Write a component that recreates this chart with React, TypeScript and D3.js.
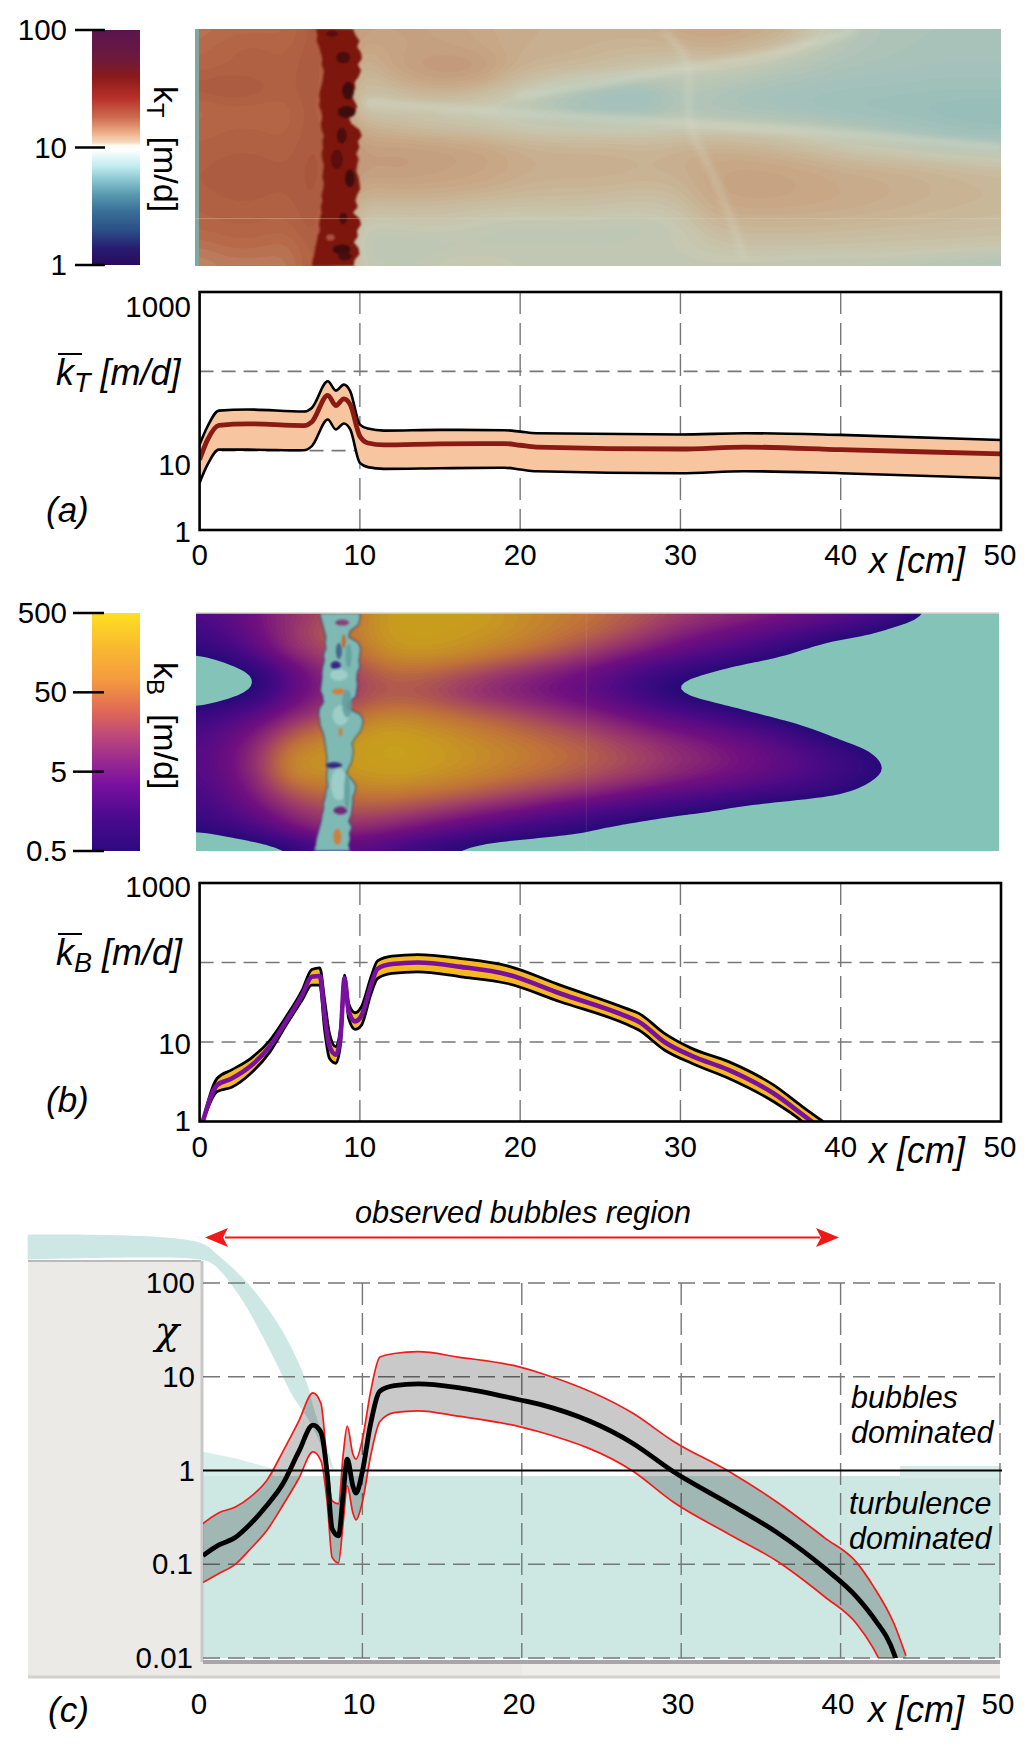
import React from "react";
import * as d3 from "d3";

// ---------- chart values ----------
const kTX = [0, 0.5, 1.2, 3, 6.5, 7, 8, 8.5, 9, 9.4, 10, 10.5, 11.5, 15, 19, 20, 21, 30, 34, 40, 50];
const kTUpper = [11.95, 20.3, 32, 33, 31.1, 34.6, 74.9, 57.1, 68, 56, 21.3, 19, 17.9, 18.3, 18.1, 17.4, 16.6, 16, 16.6, 15.8, 13.6];
const kTMean = [7.7, 13.8, 20.9, 21.8, 20.7, 23, 49.9, 37, 44.9, 38, 15.2, 12.5, 11.8, 12.2, 12.3, 11.7, 11.1, 10.5, 11.1, 10.3, 9.1];
const kTLower = [3.94, 6.7, 10.3, 10.3, 10.1, 11.4, 24.7, 18.5, 22, 18.5, 7, 6.2, 5.9, 6, 6.1, 5.8, 5.5, 5.2, 5.5, 5.2, 4.5];

const kBX = [0.2, 1.1, 2, 3.2, 4.4, 5.4, 6.4, 7, 7.5, 7.8, 8.1, 8.5, 8.8, 9.04, 9.3, 9.7, 10.1, 10.7, 11.1, 12, 13.6, 16.3, 19.2, 22.5, 26.6, 27.4, 29, 30.7, 33, 35.8, 37.6, 38.9];
const kBUpperLog = [0, 0.544, 0.649, 0.795, 1.025, 1.318, 1.653, 1.912, 1.933, 1.527, 1.109, 0.941, 1.192, 1.841, 1.485, 1.368, 1.444, 1.82, 2.02, 2.08, 2.1, 2.05, 1.958, 1.715, 1.423, 1.36, 1.109, 0.92, 0.753, 0.46, 0.188, 0];
const kBMeanLog = [0, 0.46, 0.54, 0.7, 0.95, 1.26, 1.59, 1.82, 1.83, 1.33, 0.95, 0.84, 1.09, 1.8, 1.39, 1.26, 1.33, 1.72, 1.92, 1.98, 2, 1.945, 1.85, 1.61, 1.325, 1.255, 1, 0.825, 0.65, 0.355, 0.09, -0.11];
const kBLowerLog = [0, 0.377, 0.431, 0.607, 0.879, 1.213, 1.527, 1.715, 1.715, 1.151, 0.795, 0.732, 0.983, 1.736, 1.297, 1.159, 1.213, 1.611, 1.799, 1.862, 1.883, 1.82, 1.736, 1.506, 1.226, 1.151, 0.9, 0.732, 0.544, 0.251, 0, -0.25];

const chiX = [0, 1, 2, 3, 4, 5, 6, 6.9, 7.4, 7.8, 8.1, 8.5, 8.8, 9.05, 9.4, 9.6, 10, 10.5, 11.1, 12, 13.5, 16, 19.9, 21.2, 27, 29.5, 33, 36, 39, 41, 42, 43.4, 44.1];
const chiMeanLog = [-0.908, -0.794, -0.718, -0.565, -0.374, -0.145, 0.198, 0.485, 0.408, -0.05, -0.622, -0.698, -0.24, 0.122, -0.164, -0.24, -0.01, 0.485, 0.847, 0.905, 0.924, 0.885, 0.752, 0.702, 0.286, -0.011, -0.355, -0.66, -1.042, -1.347, -1.557, -1.977, -2.4];
const chiUpperLog = [-0.565, -0.45, -0.393, -0.279, -0.107, 0.198, 0.523, 0.828, 0.714, 0.065, -0.324, -0.355, 0.179, 0.473, 0.179, 0.122, 0.332, 0.828, 1.21, 1.248, 1.267, 1.21, 1.103, 1.038, 0.607, 0.313, -0.011, -0.336, -0.718, -0.98, -1.22, -1.653, -1.977];
const chiLowerLog = [-1.195, -1.099, -1.004, -0.832, -0.641, -0.374, -0.088, 0.198, 0.103, -0.355, -0.927, -0.985, -0.546, -0.164, -0.45, -0.527, -0.336, 0.141, 0.523, 0.618, 0.637, 0.58, 0.466, 0.408, -0.011, -0.336, -0.679, -0.966, -1.347, -1.634, -1.882, -2.4, -2.8];

const xTicks = [0, 10, 20, 30, 40, 50];

// ---------- heat-map cells: 26 columns (0..50 cm, 2 cm apart), 13 rows (top to bottom) ----------
// log10 of kT [m/d]
const kTGrid = [
  [1.42,1.46,1.46,1.46,1.6,1.28,1.28,1.28,1.26,1.23,1.2,1.2,1.2,1.2,1.2,1.25,1.27,1.25,1.22,1.1,0.95,0.88,0.86,0.85,0.85,0.85],
  [1.46,1.5,1.52,1.48,1.6,1.2,1.26,1.28,1.28,1.25,1.2,1.2,1.18,1.15,1.15,1.15,1.2,1.15,1.1,0.98,0.9,0.87,0.85,0.84,0.84,0.84],
  [1.48,1.5,1.5,1.5,1.6,1.1,1.25,1.33,1.35,1.33,1.18,1.15,1.13,1.1,1.05,1,1.02,0.98,0.92,0.88,0.85,0.84,0.83,0.82,0.82,0.82],
  [1.55,1.58,1.55,1.5,1.6,1.08,1.12,1.2,1.22,1.15,1.05,0.95,0.88,0.82,0.8,0.92,0.9,0.85,0.83,0.82,0.8,0.8,0.79,0.78,0.78,0.78],
  [1.45,1.48,1.48,1.48,1.6,1,1.02,1.02,1,0.98,0.95,0.88,0.8,0.78,0.78,0.88,0.85,0.82,0.8,0.78,0.76,0.75,0.74,0.73,0.72,0.72],
  [1.48,1.5,1.5,1.48,1.6,1.2,1.15,1.1,1.08,1.05,1.02,1,1,1,1,1.02,1,1,0.98,0.95,0.9,0.86,0.82,0.78,0.75,0.74],
  [1.5,1.52,1.52,1.5,1.6,1.28,1.3,1.3,1.28,1.26,1.2,1.18,1.17,1.17,1.15,1.18,1.2,1.18,1.15,1.1,1.05,1,0.97,0.92,0.9,0.88],
  [1.52,1.54,1.54,1.52,1.6,1.3,1.32,1.3,1.28,1.26,1.22,1.2,1.2,1.2,1.18,1.2,1.24,1.26,1.25,1.23,1.2,1.18,1.17,1.15,1.12,1.1],
  [1.52,1.54,1.54,1.52,1.6,1.22,1.25,1.25,1.24,1.22,1.18,1.16,1.16,1.15,1.13,1.15,1.25,1.27,1.27,1.25,1.23,1.22,1.2,1.18,1.16,1.15],
  [1.5,1.52,1.52,1.5,1.6,1.1,1.12,1.12,1.1,1.08,1.08,1.08,1.08,1.06,1.05,1.08,1.22,1.24,1.24,1.23,1.22,1.2,1.18,1.16,1.15,1.14],
  [1.48,1.5,1.5,1.48,1.6,0.98,1,1.02,1.02,0.98,0.95,0.96,0.96,0.95,0.95,1,1.12,1.15,1.15,1.15,1.14,1.13,1.12,1.12,1.11,1.1],
  [1.42,1.46,1.46,1.42,1.6,0.95,0.94,0.94,0.95,0.96,0.98,0.98,0.98,0.98,1,1,1.05,1.08,1.08,1.08,1.07,1.07,1.06,1.06,1.05,1.05],
  [1.36,1.4,1.4,1.4,1.6,1,0.98,0.98,1.05,1.05,1,0.98,0.98,0.98,0.98,0.98,0.98,0.97,0.96,0.95,0.95,0.95,0.93,0.9,0.88,0.85],
];
// decades above 0.5 m/d; negative means below the colour range (teal)
const kBGrid = [
  [0.6,0.8,1.1,1.4,1.6,2.1,2.45,2.5,2.5,2.45,2.3,2.2,2.1,1.95,1.8,1.6,1.45,1.35,1.2,1.05,0.9,0.7,0.35,-0.1,-0.3,-0.3],
  [0.3,0.6,1.05,1.5,1.8,2.2,2.45,2.5,2.45,2.4,2.3,2.15,2,1.8,1.55,1.3,1.1,0.9,0.7,0.45,0.2,0,-0.3,-0.3,-0.3,-0.3],
  [0.05,0.3,0.8,1.4,1.6,2,2.35,2.4,2.35,2.2,2.05,1.85,1.6,1.35,1.1,0.85,0.6,0.4,0.15,-0.15,-0.4,-0.4,-0.4,-0.4,-0.4,-0.4],
  [-0.45,-0.3,0,0.8,1.3,1.65,1.95,1.95,1.8,1.6,1.4,1.2,1,0.72,0.4,0.12,-0.05,-0.3,-0.4,-0.4,-0.4,-0.4,-0.4,-0.4,-0.4,-0.4],
  [-0.45,-0.25,0.02,0.85,1.2,1.6,1.75,1.7,1.5,1.3,1.15,1,0.85,0.55,0.2,-0.12,-0.3,-0.4,-0.4,-0.4,-0.4,-0.4,-0.4,-0.4,-0.4,-0.4],
  [0.15,0.4,0.75,1.2,1.5,1.95,2.15,2.1,1.95,1.8,1.65,1.45,1.25,1.05,0.8,0.55,0.3,0.02,-0.25,-0.4,-0.4,-0.4,-0.4,-0.4,-0.4,-0.4],
  [0.5,0.8,1.2,1.8,2.1,2.35,2.5,2.4,2.3,2.15,2,1.85,1.7,1.5,1.3,1.1,0.95,0.75,0.5,0.12,-0.2,-0.4,-0.4,-0.4,-0.4,-0.4],
  [0.6,0.95,1.5,2.25,2.35,2.45,2.55,2.5,2.4,2.3,2.2,2.05,1.95,1.75,1.6,1.4,1.25,1.05,0.85,0.6,0.3,0.05,-0.3,-0.4,-0.4,-0.4],
  [0.6,0.95,1.5,2.35,2.35,2.4,2.5,2.45,2.35,2.25,2.1,2,1.85,1.7,1.55,1.35,1.2,1.05,0.85,0.65,0.4,0.15,-0.1,-0.4,-0.4,-0.4],
  [0.45,0.8,1.3,1.85,2,2.15,2.2,2.1,2,1.85,1.7,1.55,1.4,1.2,1,0.85,0.7,0.55,0.4,0.25,0.1,-0.12,-0.4,-0.4,-0.4,-0.4],
  [0.3,0.6,1,1.4,1.6,1.75,1.7,1.55,1.4,1.2,1.05,0.8,0.6,0.45,0.25,0.08,-0.05,-0.25,-0.35,-0.4,-0.4,-0.4,-0.4,-0.4,-0.4,-0.4],
  [0.06,0.2,0.5,1,1.3,1.3,1.15,0.95,0.7,0.5,0.3,0.15,0.03,-0.2,-0.3,-0.4,-0.4,-0.4,-0.4,-0.4,-0.4,-0.4,-0.4,-0.4,-0.4,-0.4],
  [-0.6,-0.5,-0.4,-0.2,0.4,0.6,0.4,0.08,-0.12,-0.35,-0.4,-0.4,-0.4,-0.4,-0.4,-0.4,-0.4,-0.4,-0.4,-0.4,-0.4,-0.4,-0.4,-0.4,-0.4,-0.4],
];

// heat-map colour stops
const kTLevels = [0.72, 0.8, 0.9, 1.0, 1.1, 1.2, 1.3, 1.45, 1.55, 1.7];
const kTColors = ["#98bdb9", "#a4c1bb", "#b6c5b5", "#c6c8b2", "#c9bb9f", "#c8ab8a", "#c39b7c", "#b66a4a", "#a9573c", "#7c1a14"];
const kBLevels = [0, 0.5, 1, 1.5, 2, 2.4, 2.6];
const kBColors = ["#2a0a7a", "#4a0a85", "#700f80", "#9c3a6a", "#c0703a", "#c89a20", "#c8a51a"];

// colour bars, top to bottom
const kTBarOffsets = [0, 0.13, 0.2, 0.29, 0.37, 0.43, 0.48, 0.49, 0.51, 0.58, 0.64, 0.7, 0.77, 0.85, 0.93, 1];
const kTBarColors = ["#5a1450", "#6e1a3a", "#8a1a1a", "#b8302a", "#cc6a4f", "#eaa680", "#f8dcc0", "#fffaf0", "#ffffff", "#c0ecf0", "#88c4cf", "#5a9ab0", "#3a7098", "#2a5088", "#281c70", "#2a0a60"];
const kBBarOffsets = [0, 0.15, 0.28, 0.41, 0.51, 0.62, 0.72, 0.85, 1];
const kBBarColors = ["#ffe020", "#f8b830", "#f59a40", "#e06a55", "#c04a78", "#9a2a90", "#7a10a0", "#4d0a90", "#2c0a80"];

// the ragged band across both maps, evenly spaced rows from top to bottom: left and right edge [cm]
const kTBandLeft = [7.5,7.6,7.55,7.7,7.8,7.9,7.85,8,7.95,7.9,7.8,7.7,7.75,7.7,7.85,7.9,7.8,7.85,8,7.9,7.95,7.85,7.9,8,7.95,7.9,8,7.95,7.85,7.9,7.8,7.85,7.75,7.7,7.75,7.6,7.55,7.45,7.4,7.3,7.25];
const kTBandRight = [9.8,9.95,10.2,10.05,10.3,10.35,10.1,10.3,10.15,9.9,9.95,9.7,9.85,10.05,9.95,9.55,9.7,10.2,10.35,10.1,10.2,10,10.15,10.05,10,10.15,10.2,10.25,10.05,9.95,10.1,9.8,10.2,10.3,10.05,10.1,9.85,10.15,10.2,9.9,9.85];
const kBBandLeft = [7.7,7.8,7.9,8,8.1,8.05,8.1,7.95,8,7.9,7.85,7.85,7.8,7.75,7.9,7.95,7.7,7.65,7.7,7.75,7.9,8,8.05,8.1,8.15,8.15,8.2,8.15,8.15,8.2,8.1,8.05,7.95,7.95,7.85,7.8,7.7,7.6,7.5,7.45,7.35];
const kBBandRight = [10.2,10.2,10.1,9.6,9.5,10.1,10.25,10.2,10.15,10.2,10.05,10,10.05,10,9.95,9.5,9.4,10.2,10.4,10.35,10.2,9.9,9.7,9.8,9.75,9.7,9.5,9.35,9.7,9.95,9.9,9.75,9.75,9.7,9.65,9.5,9.7,9.55,9.6,9.5,9.6];
const kTSpecks = [[8.5,0.02,6,3,"#561009"],[9.2,0.12,7,6,"#4a0d0a"],[9.5,0.26,6,9,"#3d0d0a"],[9.4,0.35,9,6,"#3d0d0a"],[9.1,0.45,5,8,"#4a0d0a"],[9.6,0.63,5,9,"#3d0d0a"],[9.2,0.8,4,6,"#4a0d0a"],[9.1,0.93,9,5,"#3d0d0a"],[8.4,0.88,4,3,"#b05040"],[9.3,0.96,7,4,"#4a0d0a"],[8.8,0.55,6,10,"#5c100c"]];
const kBSpecks = [[8.7,0.22,5,4,"#2a0a7a"],[8.9,0.33,7,3,"#d8772a"],[8.6,0.64,8,3,"#2a0a7a"],[9,0.83,7,4,"#701070"],[8.8,0.94,4,8,"#d8772a"],[9.2,0.12,2,7,"#c8601a"],[9.1,0.04,7,3,"#8b2a70"],[9,0.5,2,4,"#d8772a"],[8.9,0.16,3,8,"#3a5a80"],[9,0.43,8,10,"#a5d0cb"],[8.9,0.72,8,16,"#a5d0cb"],[8.9,0.26,9,6,"#a5d0cb"],[9.4,0.38,5,14,"#5f9f9f"],[9.4,0.75,3,18,"#5f9f9f"],[9.5,0.18,3,12,"#5f9f9f"]];

// faint ridges on the kT map: [cm, row fraction]
const ridgeUpper = [[20, 0.285], [24, 0.24], [30.5, 0.165], [36, 0.1], [41, 0.005]];
const ridgeLower = [[10.5, 0.31], [20, 0.355], [30, 0.395], [40, 0.44], [50, 0.5]];
const ridgeFront = [[29, 0], [30.5, 0.14], [30.7, 0.4], [32, 0.6], [33.5, 0.85], [34, 0.97]];

// teal stripe in panel c, in axis units [cm, log10 chi]
const stripeTop = [[-11, 2.515], [-0.2, 2.431], [1.05, 2.279], [2.93, 1.973], [5.02, 1.477], [6.49, 0.943], [7, 0.637], [8.16, 0.027]];
const stripeBottom = [[8.16, 0], [6.69, 0.523], [5.65, 0.79], [4.18, 1.286], [2.3, 1.859], [0.63, 2.2], [-0.2, 2.252], [-11, 2.252]];
const stripeLow = [[0, 0.2], [2, 0.13], [4.4, 0.02], [4.4, -0.06], [0, -0.06]];

// ---------- geometry ----------
const FONT = "'Liberation Sans', Arial, sans-serif";
const W = 1033;
const H = 1750;
const xA = d3.scaleLinear().domain([0, 50]).range([199.6, 1001]);
const yA = d3.scaleLog().domain([1, 1000]).range([530, 292]);
const yB = d3.scaleLog().domain([1, 1000]).range([1121.5, 883]);
const xC = d3.scaleLinear().domain([0, 50]).range([203, 1000]);
const yC = d3.scaleLog().domain([0.01, 100]).range([1658, 1283]);
const mapTX = d3.scaleLinear().domain([0, 50]).range([195, 1001]);
const mapTY = d3.scaleLinear().domain([0, 1]).range([29, 266]);
const mapBX = d3.scaleLinear().domain([0, 50]).range([196, 999]);
const mapBY = d3.scaleLinear().domain([0, 1]).range([613, 851]);
const barT = d3.scaleLog().domain([1, 100]).range([265, 30]);
const barB = d3.scaleLog().domain([0.5, 500]).range([851, 613]);

const fineLine = (xs: any, ys: any, curve: any = d3.curveMonotoneX) =>
  d3.line<number>().x((d) => d).y((_, i) => ys[i]).curve(curve)(xs);

function bandPath(left: number[], right: number[], sx: any, sy: any) {
  const n = left.length - 1;
  const pts = [
    ...left.map((v, i) => [sx(v), sy(i / n)]),
    ...right.map((v, i) => [sx(v), sy(i / n)]).reverse(),
  ];
  return d3.line().curve(d3.curveLinear)(pts as any) + "Z";
}

function HeatMap({ grid, thresholds, color, sx, sy, id }: any) {
  const rows = grid.length;
  const cols = grid[0].length;
  const k = 6;
  const w = (cols - 1) * k + 1;
  const h = (rows - 1) * k + 1;
  const data = new Float64Array(w * h);
  for (let j = 0; j < h; j++) {
    const gy = j / k;
    const j0 = Math.min(Math.floor(gy), rows - 2);
    for (let i = 0; i < w; i++) {
      const gx = i / k;
      const i0 = Math.min(Math.floor(gx), cols - 2);
      const fx = gx - i0;
      const fy = gy - j0;
      data[j * w + i] =
        grid[j0][i0] * (1 - fx) * (1 - fy) +
        grid[j0][i0 + 1] * fx * (1 - fy) +
        grid[j0 + 1][i0] * (1 - fx) * fy +
        grid[j0 + 1][i0 + 1] * fx * fy;
    }
  }
  d3.blur2({ data, width: w, height: h }, 2);
  const polys = d3.contours().size([w, h]).thresholds(thresholds)(data as any);
  const path = d3.geoPath(
    d3.geoTransform({
      point(x: number, y: number) {
        (this as any).stream.point(sx(((x - 0.5) / (w - 1)) * 50), sy((y - 0.5) / (h - 1)));
      },
    })
  );
  return (
    <g clipPath={`url(#${id})`}>
      {polys.map((p: any, i: number) => (
        <path key={i} d={path(p) || ""} fill={color(p.value)} />
      ))}
    </g>
  );
}

function Txt({ x, y, size = 29.5, anchor = "start", italic = false, children, family = FONT }: any) {
  return (
    <text x={x} y={y} fontSize={size} textAnchor={anchor} fontStyle={italic ? "italic" : "normal"} fontFamily={family} fill="#000">
      {children}
    </text>
  );
}

function KBarLabel({ sub, y }: any) {
  return (
    <g>
      <line x1={58} x2={82} y1={y - 31} y2={y - 31} stroke="#000" strokeWidth={2} />
      <text x={56} y={y} fontSize={36} fontStyle="italic" fontFamily={FONT}>
        k<tspan fontSize={27} dy={7}>{sub}</tspan>
        <tspan dy={-7}> [m/d]</tspan>
      </text>
    </g>
  );
}

function MapLabel({ sub, y }: any) {
  return (
    <text transform={`translate(154,${y}) rotate(90)`} fontSize={34} fontFamily={FONT}>
      k<tspan fontSize={24} dy={7}>{sub}</tspan>
      <tspan dy={-7} xmlSpace="preserve">  [m/d]</tspan>
    </text>
  );
}

const grid = "#777";
const dash = "14 8";

export default function App() {
  const colorT = d3.scaleLinear<string>().domain(kTLevels).range(kTColors).clamp(true);
  const colorB = d3.scaleLinear<string>().domain(kBLevels).range(kBColors).clamp(true);

  const areaA = d3.area<number>().x((d) => xA(d)).y0((_, i) => yA(kTLower[i])).y1((_, i) => yA(kTUpper[i])).curve(d3.curveMonotoneX)(kTX);
  const areaB = d3.area<number>().x((d) => xA(d)).y0((_, i) => yB(10 ** kBLowerLog[i])).y1((_, i) => yB(10 ** kBUpperLog[i])).curve(d3.curveMonotoneX)(kBX);
  const areaC = d3.area<number>().x((d) => xC(d)).y0((_, i) => yC(10 ** chiLowerLog[i])).y1((_, i) => yC(10 ** chiUpperLog[i])).curve(d3.curveMonotoneX)(chiX);

  const stripe = d3.line().curve(d3.curveCatmullRom)([...stripeTop, ...stripeBottom].map(([a, b]) => [xC(a), yC(10 ** b)]) as any) + "Z";
  const stripe2 = d3.line().curve(d3.curveLinear)(stripeLow.map(([a, b]) => [xC(a), yC(10 ** b)]) as any) + "Z";
  const ridge = (pts: number[][]) => d3.line().curve(d3.curveCatmullRom)(pts.map(([a, b]) => [mapTX(a), mapTY(b)]) as any) || "";

  const plot = (y0: number, y1: number, yScale: any) => (
    <g>
      {[100, 10].map((v) => (
        <line key={v} x1={xA(0)} x2={xA(50)} y1={yScale(v)} y2={yScale(v)} stroke={grid} strokeWidth={1.6} strokeDasharray={dash} />
      ))}
      {[10, 20, 30, 40].map((v) => (
        <line key={v} x1={xA(v)} x2={xA(v)} y1={y0} y2={y1} stroke={grid} strokeWidth={1.4} strokeDasharray="22 9" />
      ))}
    </g>
  );

  return (
    <svg width={W} height={H} viewBox={`0 0 ${W} ${H}`} style={{ position: "absolute", left: 0, top: 0, background: "#fff" }}>
      <defs>
        <clipPath id="cmT"><rect x={mapTX(0)} y={mapTY(0)} width={mapTX(50) - mapTX(0)} height={mapTY(1) - mapTY(0)} /></clipPath>
        <clipPath id="cmB"><rect x={mapBX(0)} y={mapBY(0)} width={mapBX(50) - mapBX(0)} height={mapBY(1) - mapBY(0)} /></clipPath>
        <clipPath id="cpA"><rect x={xA(0)} y={yA(1000)} width={xA(50) - xA(0)} height={yA(1) - yA(1000)} /></clipPath>
        <clipPath id="cpB"><rect x={xA(0)} y={yB(1000)} width={xA(50) - xA(0)} height={yB(1) - yB(1000)} /></clipPath>
        <clipPath id="cpC"><rect x={xC(0)} y={yC(100)} width={xC(50) - xC(0)} height={yC(0.01) - yC(100)} /></clipPath>
        <linearGradient id="gT" x1="0" x2="0" y1="0" y2="1">
          {kTBarOffsets.map((o, i) => <stop key={i} offset={o} stopColor={kTBarColors[i]} />)}
        </linearGradient>
        <linearGradient id="gB" x1="0" x2="0" y1="0" y2="1">
          {kBBarOffsets.map((o, i) => <stop key={i} offset={o} stopColor={kBBarColors[i]} />)}
        </linearGradient>
        <filter id="soft" x="-20%" y="-20%" width="140%" height="140%"><feGaussianBlur stdDeviation="0.9" /></filter>
        <filter id="softWide" x="-20%" y="-40%" width="140%" height="180%"><feGaussianBlur stdDeviation="3" /></filter>
      </defs>

      {/* ---- kT map ---- */}
      <rect x={92} y={barT(100)} width={48} height={barT(1) - barT(100)} fill="url(#gT)" />
      {[100, 10, 1].map((v) => (
        <g key={v}>
          <line x1={75} x2={105} y1={barT(v)} y2={barT(v)} stroke="#000" strokeWidth={2.5} />
          <Txt x={67} y={barT(v) + 10} anchor="end">{v}</Txt>
        </g>
      ))}
      <MapLabel sub="T" y={86} />
      <rect x={mapTX(0)} y={mapTY(0)} width={mapTX(50) - mapTX(0)} height={mapTY(1) - mapTY(0)} fill="#c8ab8a" />
      <HeatMap grid={kTGrid} thresholds={d3.range(0.7, 1.72, 0.025)} color={colorT} sx={mapTX} sy={mapTY} id="cmT" />
      <g clipPath="url(#cmT)">
        <g fill="none" stroke="#d8dccb" strokeOpacity={0.5} strokeWidth={6} filter="url(#softWide)">
          <path d={ridge(ridgeUpper)} />
          <path d={ridge(ridgeLower)} />
          <path d={ridge(ridgeFront)} strokeOpacity={0.35} />
        </g>
        <rect x={mapTX(0)} y={mapTY(0)} width={4} height={mapTY(1) - mapTY(0)} fill="#7fa8a0" />
        <g filter="url(#soft)">
          <path d={bandPath(kTBandLeft, kTBandRight, mapTX, mapTY)} fill="#7d1611" />
          {kTSpecks.map(([a, b, w, h, c]: any, i) => (
            <ellipse key={i} cx={mapTX(a)} cy={mapTY(b)} rx={w} ry={h} fill={c} />
          ))}
        </g>
      </g>
      <line x1={mapTX(0)} x2={mapTX(50)} y1={mapTY(0.8)} y2={mapTY(0.8)} stroke="#e2cdb4" strokeOpacity={0.4} />

      {/* ---- panel a ---- */}
      {plot(yA(1000), yA(1), yA)}
      <g clipPath="url(#cpA)">
        <path d={areaA || ""} fill="#f7c6a0" />
        <path d={fineLine(kTX.map((d) => xA(d)), kTUpper.map((d) => yA(d))) || ""} fill="none" stroke="#000" strokeWidth={2.6} />
        <path d={fineLine(kTX.map((d) => xA(d)), kTLower.map((d) => yA(d))) || ""} fill="none" stroke="#000" strokeWidth={2.6} />
        <path d={fineLine(kTX.map((d) => xA(d)), kTMean.map((d) => yA(d))) || ""} fill="none" stroke="#8a1a14" strokeWidth={4.8} />
      </g>
      <rect x={xA(0)} y={yA(1000)} width={xA(50) - xA(0)} height={yA(1) - yA(1000)} fill="none" stroke="#000" strokeWidth={2.6} />
      <Txt x={191} y={317} anchor="end">1000</Txt>
      <Txt x={191} y={475} anchor="end">10</Txt>
      <Txt x={191} y={542} anchor="end">1</Txt>
      {xTicks.map((v) => <Txt key={v} x={xA(v) - (v === 50 ? 1 : 0)} y={565} anchor="middle">{v}</Txt>)}
      <Txt x={869} y={573} size={36} italic>x [cm]</Txt>
      <KBarLabel sub="T" y={385} />
      <Txt x={46} y={522} size={35} italic>(a)</Txt>

      {/* ---- kB map ---- */}
      <rect x={92} y={barB(500)} width={48} height={barB(0.5) - barB(500)} fill="url(#gB)" />
      {[500, 50, 5, 0.5].map((v) => (
        <g key={v}>
          <line x1={73} x2={104} y1={barB(v)} y2={barB(v)} stroke="#000" strokeWidth={2.5} />
          <Txt x={67} y={barB(v) + 10} anchor="end">{v}</Txt>
        </g>
      ))}
      <MapLabel sub="B" y={662} />
      <rect x={mapBX(0)} y={mapBY(0)} width={mapBX(50) - mapBX(0)} height={mapBY(1) - mapBY(0)} fill="#84c4b8" />
      <HeatMap grid={kBGrid} thresholds={d3.range(0, 2.6, 0.05)} color={colorB} sx={mapBX} sy={mapBY} id="cmB" />
      <g clipPath="url(#cmB)">
        <path d={bandPath(kBBandLeft, kBBandRight, mapBX, mapBY)} fill="#7fb9b4" stroke="#2a3a70" strokeOpacity={0.6} strokeWidth={1.6} filter="url(#soft)" />
        <g filter="url(#soft)">
          {kBSpecks.map(([a, b, w, h, c]: any, i) => (
            <ellipse key={i} cx={mapBX(a)} cy={mapBY(b)} rx={w} ry={h} fill={c} fillOpacity={0.85} />
          ))}
        </g>
      </g>
      <line x1={mapBX(0)} x2={mapBX(50)} y1={mapBY(0)} y2={mapBY(0)} stroke="#d9d4cc" strokeWidth={1.5} />
      <line x1={mapBX(24.3)} x2={mapBX(24.3)} y1={mapBY(0)} y2={mapBY(1)} stroke="#e5d9c0" strokeOpacity={0.13} />

      {/* ---- panel b ---- */}
      {plot(yB(1000), yB(1), yB)}
      <g clipPath="url(#cpB)">
        <path d={areaB || ""} fill="#f6b820" />
        <path d={fineLine(kBX.map((d) => xA(d)), kBUpperLog.map((d) => yB(10 ** d))) || ""} fill="none" stroke="#000" strokeWidth={2.8} />
        <path d={fineLine(kBX.map((d) => xA(d)), kBLowerLog.map((d) => yB(10 ** d))) || ""} fill="none" stroke="#000" strokeWidth={2.8} />
        <path d={fineLine(kBX.map((d) => xA(d)), kBMeanLog.map((d) => yB(10 ** d))) || ""} fill="none" stroke="#7a10a0" strokeWidth={4.6} />
      </g>
      <rect x={xA(0)} y={yB(1000)} width={xA(50) - xA(0)} height={yB(1) - yB(1000)} fill="none" stroke="#000" strokeWidth={2.6} />
      <Txt x={191} y={897} anchor="end">1000</Txt>
      <Txt x={191} y={1054} anchor="end">10</Txt>
      <Txt x={191} y={1131} anchor="end">1</Txt>
      {xTicks.map((v) => <Txt key={v} x={xA(v) - (v === 50 ? 1 : 0)} y={1157} anchor="middle">{v}</Txt>)}
      <Txt x={869} y={1163} size={36} italic>x [cm]</Txt>
      <KBarLabel sub="B" y={965} />
      <Txt x={46} y={1112} size={35} italic>(b)</Txt>

      {/* ---- panel c background ---- */}
      <rect x={28} y={1261} width={175} height={417} fill="#ebeae6" />
      <rect x={203} y={1663} width={319} height={15} fill="#ebeae6" />
      <rect x={522} y={1663} width={478} height={15} fill="#efeeea" />
      <path d={stripe} fill="#cde8e4" />
      <path d={stripe2} fill="#d8eeea" />
      <rect x={xC(0)} y={1476} width={xC(50) - xC(0)} height={yC(0.01) - 1476} fill="#cde8e3" />
      <rect x={900} y={1466} width={100} height={12} fill="#d6ece8" />
      <line x1={28} x2={201} y1={1261} y2={1261} stroke="#bdb8bc" strokeWidth={2} />
      <line x1={202} x2={202} y1={1261} y2={1662} stroke="#c8c8c8" strokeWidth={3} />
      <line x1={203} x2={1000} y1={1662} y2={1662} stroke="#aaa4aa" strokeWidth={4} />
      <line x1={28} x2={1000} y1={1677} y2={1677} stroke="#d2d2ce" strokeWidth={3} />

      {/* ---- panel c ---- */}
      {[100, 10, 0.1, 0.01].map((v) => (
        <line key={v} x1={xC(0)} x2={xC(50)} y1={yC(v)} y2={yC(v)} stroke={grid} strokeWidth={1.5} strokeDasharray="17 8" />
      ))}
      {[10, 20, 30, 40, 50].map((v) => (
        <line key={v} x1={xC(v)} x2={xC(v)} y1={yC(100)} y2={yC(0.01)} stroke={grid} strokeWidth={1.4} strokeDasharray="22 8" />
      ))}
      <g clipPath="url(#cpC)">
        <path d={areaC || ""} fill="#000" fillOpacity={0.21} />
        <path d={fineLine(chiX.map((d) => xC(d)), chiUpperLog.map((d) => yC(10 ** d))) || ""} fill="none" stroke="#f41a1a" strokeWidth={1.7} />
        <path d={fineLine(chiX.map((d) => xC(d)), chiLowerLog.map((d) => yC(10 ** d))) || ""} fill="none" stroke="#f41a1a" strokeWidth={1.7} />
        <path d={fineLine(chiX.map((d) => xC(d)), chiMeanLog.map((d) => yC(10 ** d))) || ""} fill="none" stroke="#000" strokeWidth={4.8} />
      </g>
      <line x1={xC(0)} x2={1002} y1={yC(1)} y2={yC(1)} stroke="#000" strokeWidth={2} />
      <Txt x={195} y={1293} anchor="end">100</Txt>
      <Txt x={195} y={1387} anchor="end">10</Txt>
      <Txt x={195} y={1481} anchor="end">1</Txt>
      <Txt x={193} y={1574} anchor="end">0.1</Txt>
      <Txt x={193} y={1668} anchor="end">0.01</Txt>
      <Txt x={155} y={1344} size={40} italic family="'DejaVu Serif', serif">χ</Txt>
      {[[0, 199], [10, 359], [20, 519], [30, 678], [40, 838], [50, 998]].map(([v, x]) => (
        <Txt key={v} x={x} y={1714} anchor="middle">{v}</Txt>
      ))}
      <Txt x={868} y={1722} size={36} italic>x [cm]</Txt>
      <Txt x={48} y={1722} size={35} italic>(c)</Txt>
      <Txt x={355} y={1223} size={30.7} italic>observed bubbles region</Txt>
      <Txt x={851} y={1408} size={30.5} italic>bubbles</Txt>
      <Txt x={851} y={1443} size={30.5} italic>dominated</Txt>
      <Txt x={849} y={1514} size={30.5} italic>turbulence</Txt>
      <Txt x={849} y={1549} size={30.5} italic>dominated</Txt>
      <line x1={225} x2={820} y1={1237.5} y2={1237.5} stroke="#f01818" strokeWidth={2} />
      <path d="M205,1237.5 L228,1228 L223,1237.5 L228,1247 Z" fill="#f01818" />
      <path d="M839,1237.5 L816,1228 L821,1237.5 L816,1247 Z" fill="#f01818" />
    </svg>
  );
}
